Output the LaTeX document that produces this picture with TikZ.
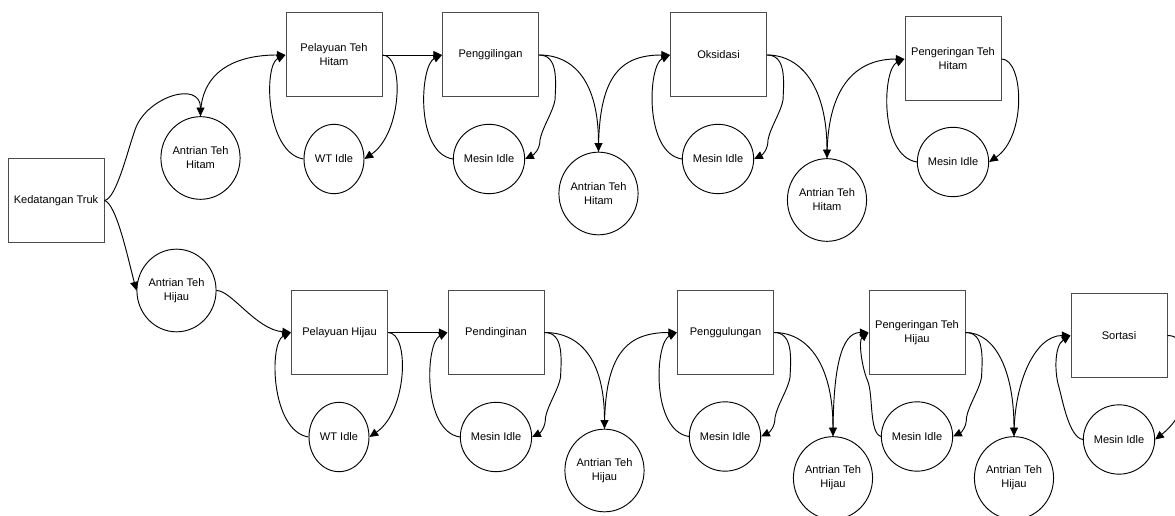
\documentclass[tikz,border=0pt]{standalone}
\usepackage{fontspec}
\setmainfont{Liberation Sans}
\usetikzlibrary{shapes.geometric,arrows.meta,calc}
\tikzset{
  lbl/.style={align=center,font=\fontsize{8.3pt}{10.5pt}\selectfont,text=black},
  proc/.style={lbl,draw=black!70,line width=0.75pt,rectangle,minimum width=72pt,minimum height=63pt,inner sep=1pt},
  queue/.style={lbl,draw=black,line width=0.7pt,ellipse,minimum width=54.5pt,minimum height=62pt,inner sep=0pt},
  idle/.style={lbl,draw=black,line width=0.7pt,ellipse,minimum width=45pt,minimum height=52pt,inner sep=0pt},
  arr/.style={draw=black,line width=0.7pt,-{Triangle[length=6.5pt,width=6pt]}},
}
% C-shaped loops
\newcommand\myCL[2]{\draw[arr] (#2.west) .. controls +(-38,-6) and +(-22,10) .. (#1.west);}
\newcommand\myCR[2]{\draw[arr] (#1.east) .. controls +(22,0) and +(38,-26) .. (#2.east);}
% S-shaped right loop
\newcommand\mySR[2]{\draw[arr] (#1.east) .. controls +(19,0) and +(1,-20) .. ($(#1.east)+(16,45)$) .. controls +(-2,12) and +(2,-12) .. ($(#1.east)+(1,85)$) .. controls +(0,10) and +(8,-4) .. (#2.east);}
\begin{document}
\begin{tikzpicture}[x=0.75pt,y=-0.75pt]
\fill[white] (0,0) rectangle (1175,516);
\useasboundingbox (0,0) rectangle (1175,516);

% ---------- top row ----------
\node[proc] (kt) at (56,200.5) {Kedatangan Truk};
\node[queue] (ath1) at (200.5,158) {Antrian Teh\\Hitam};
\node[proc] (pth) at (334,55) {Pelayuan Teh\\Hitam};
\node[idle] (wt1) at (334,159) {WT Idle};
\node[proc] (pg) at (490.5,55) {Penggilingan};
\node[idle] (mi1) at (489,159) {Mesin Idle};
\node[queue] (ath2) at (598.5,193.5) {Antrian Teh\\Hitam};
\node[proc] (ok) at (718.5,55) {Oksidasi};
\node[idle] (mi2) at (718,159) {Mesin Idle};
\node[queue] (ath3) at (827,200) {Antrian Teh\\Hitam};
\node[proc] (pgth) at (953,59) {Pengeringan Teh\\Hitam};
\node[idle] (mi3) at (953,162) {Mesin Idle};

% ---------- bottom row ----------
\node[queue] (ahj1) at (176.5,290.5) {Antrian Teh\\Hijau};
\node[proc] (ph) at (339.5,332.5) {Pelayuan Hijau};
\node[idle] (wt2) at (339,437) {WT Idle};
\node[proc] (pd) at (496,332.5) {Pendinginan};
\node[idle] (mi4) at (496,437) {Mesin Idle};
\node[queue] (ahj2) at (604.5,470.5) {Antrian Teh\\Hijau};
\node[proc] (pgl) at (725.5,332.5) {Penggulungan};
\node[idle] (mi5) at (725,436.5) {Mesin Idle};
\node[queue] (ahj3) at (833,478) {Antrian Teh\\Hijau};
\node[proc] (pgthj) at (917,332.5) {Pengeringan Teh\\Hijau};
\node[idle] (mi6) at (917,436.5) {Mesin Idle};
\node[queue] (ahj4) at (1014,478) {Antrian Teh\\Hijau};
\node[proc] (so) at (1119,335.5) {Sortasi};
\node[idle] (mi7) at (1119,439.5) {Mesin Idle};

% ---------- arrivals ----------
\draw[arr] (kt.east) .. controls +(12,-2) and +(-8,22) .. ($(kt.east)+(31,-72)$) .. controls +(12,-32) and +(0,-36) .. (ath1.north);
\draw[arr] (kt.east) .. controls +(12,3) and +(-8,-30) .. (ahj1.west);

% ---------- top chain ----------
\draw[arr] (ath1.north) .. controls +(0,-45) and +(-50,0) .. (pth.west);
\draw[arr] (pth.east) -- (pg.west);
\draw[arr] (pg.east) .. controls +(35,0) and +(0,-70) .. (ath2.north);
\draw[arr] (ath2.north) .. controls +(0,-75) and +(-50,0) .. (ok.west);
\draw[arr] (ok.east) .. controls +(35,0) and +(0,-70) .. (ath3.north);
\draw[arr] (ath3.north) .. controls +(0,-70) and +(-50,0) .. (pgth.west);

\myCR{pth}{wt1}  \myCL{pth}{wt1}
\mySR{pg}{mi1}   \myCL{pg}{mi1}
\mySR{ok}{mi2}   \myCL{ok}{mi2}
\myCR{pgth}{mi3} \myCL{pgth}{mi3}

% ---------- bottom chain ----------
\draw[arr] (ahj1.east) .. controls +(15,0) and +(-35,-3) .. (ph.west);
\draw[arr] (ph.east) -- (pd.west);
\draw[arr] (pd.east) .. controls +(35,0) and +(0,-70) .. (ahj2.north);
\draw[arr] (ahj2.north) .. controls +(0,-75) and +(-50,0) .. (pgl.west);
\draw[arr] (pgl.east) .. controls +(35,0) and +(0,-70) .. (ahj3.north);
\draw[arr] (ahj3.north) .. controls +(0,-65) and +(-28,0) .. (pgthj.west);
\draw[arr] (pgthj.east) .. controls +(30,0) and +(0,-65) .. (ahj4.north);
\draw[arr] (ahj4.north) .. controls +(0,-55) and +(-35,0) .. (so.west);

\myCR{ph}{wt2}  \myCL{ph}{wt2}
\mySR{pd}{mi4}  \myCL{pd}{mi4}
\mySR{pgl}{mi5} \myCL{pgl}{mi5}
\mySR{pgthj}{mi6}
\draw[arr] (mi6.west) .. controls +(-12,-4) and +(6,14) .. ($(pgthj.west)+(-1,48)$) .. controls +(-6,-14) and +(-10,8) .. (pgthj.west);
\draw[arr] (so.east) .. controls +(30,0) and +(45,-35) .. (mi7.east);
\draw[arr] (mi7.west) .. controls +(-14,-2) and +(4,14) .. ($(so.west)+(-12,50)$) .. controls +(-4,-14) and +(-16,10) .. (so.west);
\end{tikzpicture}
\end{document}
